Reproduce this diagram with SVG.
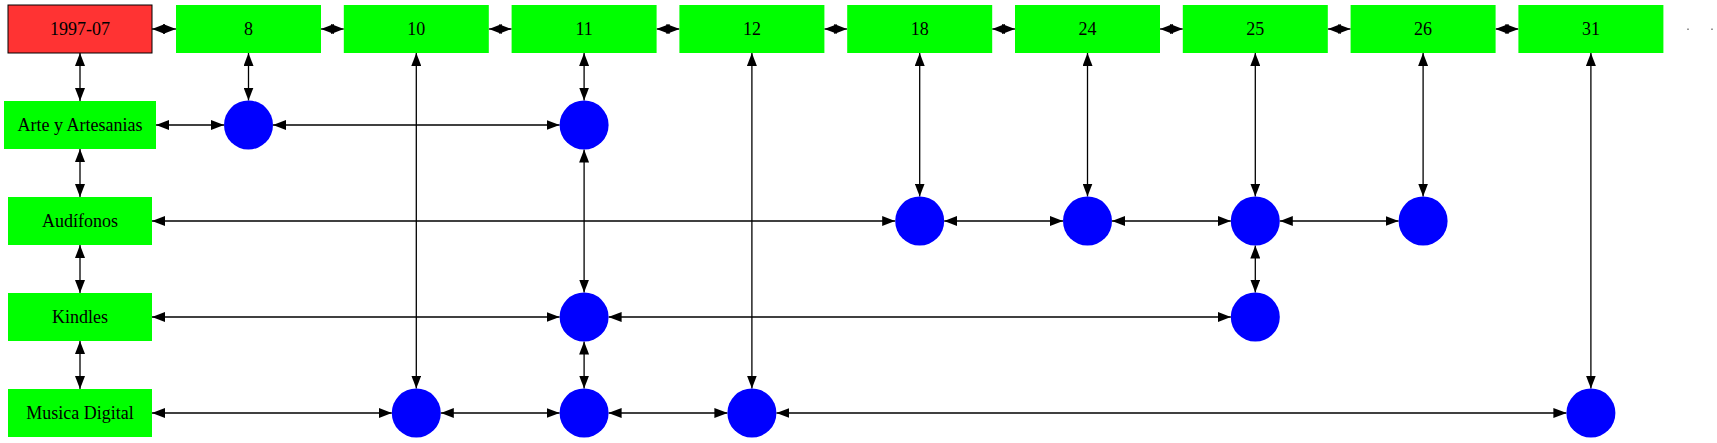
<svg xmlns="http://www.w3.org/2000/svg" width="1717" height="443" viewBox="0 0 1717 443">
<style>
.lbl{font-family:"Liberation Serif","Times New Roman",serif;font-size:18px;text-anchor:middle;fill:#000}
.g{fill:#00ff00}
.c{fill:#0000ff}
.e{stroke:#000;stroke-width:1.3;fill:none;marker-start:url(#ah);marker-end:url(#ah)}
</style>
<defs>
<marker id="ah" markerUnits="userSpaceOnUse" markerWidth="13" markerHeight="10" refX="13" refY="5" orient="auto-start-reverse" viewBox="0 0 13 10">
<path d="M0,0 L13,5 L0,10 z" fill="#000"/>
</marker>
</defs>
<rect width="1717" height="443" fill="#fff"/>
<g id="connectors">
<line class="e" x1="152" y1="29" x2="176" y2="29"/>
<line class="e" x1="321" y1="29" x2="343.8" y2="29"/>
<line class="e" x1="488.8" y1="29" x2="511.6" y2="29"/>
<line class="e" x1="656.6" y1="29" x2="679.4" y2="29"/>
<line class="e" x1="824.4" y1="29" x2="847.2" y2="29"/>
<line class="e" x1="992.2" y1="29" x2="1015" y2="29"/>
<line class="e" x1="1160" y1="29" x2="1182.8" y2="29"/>
<line class="e" x1="1327.8" y1="29" x2="1350.6" y2="29"/>
<line class="e" x1="1495.6" y1="29" x2="1518.4" y2="29"/>
<line class="e" x1="80" y1="53" x2="80" y2="101"/>
<line class="e" x1="80" y1="149" x2="80" y2="197"/>
<line class="e" x1="80" y1="245" x2="80" y2="293"/>
<line class="e" x1="80" y1="341" x2="80" y2="389"/>
<line class="e" x1="248.5" y1="53" x2="248.5" y2="100.5"/>
<line class="e" x1="416.3" y1="53" x2="416.3" y2="388.5"/>
<line class="e" x1="584.1" y1="53" x2="584.1" y2="100.5"/>
<line class="e" x1="584.1" y1="149.5" x2="584.1" y2="292.5"/>
<line class="e" x1="584.1" y1="341.5" x2="584.1" y2="388.5"/>
<line class="e" x1="751.9" y1="53" x2="751.9" y2="388.5"/>
<line class="e" x1="919.7" y1="53" x2="919.7" y2="196.5"/>
<line class="e" x1="1087.5" y1="53" x2="1087.5" y2="196.5"/>
<line class="e" x1="1255.3" y1="53" x2="1255.3" y2="196.5"/>
<line class="e" x1="1255.3" y1="245.5" x2="1255.3" y2="292.5"/>
<line class="e" x1="1423.1" y1="53" x2="1423.1" y2="196.5"/>
<line class="e" x1="1590.9" y1="53" x2="1590.9" y2="388.5"/>
<line class="e" x1="156" y1="125" x2="224" y2="125"/>
<line class="e" x1="273" y1="125" x2="559.6" y2="125"/>
<line class="e" x1="152" y1="221" x2="895.2" y2="221"/>
<line class="e" x1="944.2" y1="221" x2="1063" y2="221"/>
<line class="e" x1="1112" y1="221" x2="1230.8" y2="221"/>
<line class="e" x1="1279.8" y1="221" x2="1398.6" y2="221"/>
<line class="e" x1="152" y1="317" x2="559.6" y2="317"/>
<line class="e" x1="608.6" y1="317" x2="1230.8" y2="317"/>
<line class="e" x1="152" y1="413" x2="391.8" y2="413"/>
<line class="e" x1="440.8" y1="413" x2="559.6" y2="413"/>
<line class="e" x1="608.6" y1="413" x2="727.4" y2="413"/>
<line class="e" x1="776.4" y1="413" x2="1566.4" y2="413"/>
</g>
<g id="n-1997-07"><rect x="8" y="5" width="144" height="48" fill="#ff3333" stroke="#000" stroke-width="1"/><text class="lbl" x="80" y="35">1997-07</text></g>
<g id="n-8"><rect class="g" x="176" y="5" width="145" height="48"/><text class="lbl" x="248.5" y="35">8</text></g>
<g id="n-10"><rect class="g" x="343.8" y="5" width="145" height="48"/><text class="lbl" x="416.3" y="35">10</text></g>
<g id="n-11"><rect class="g" x="511.6" y="5" width="145" height="48"/><text class="lbl" x="584.1" y="35">11</text></g>
<g id="n-12"><rect class="g" x="679.4" y="5" width="145" height="48"/><text class="lbl" x="751.9" y="35">12</text></g>
<g id="n-18"><rect class="g" x="847.2" y="5" width="145" height="48"/><text class="lbl" x="919.7" y="35">18</text></g>
<g id="n-24"><rect class="g" x="1015" y="5" width="145" height="48"/><text class="lbl" x="1087.5" y="35">24</text></g>
<g id="n-25"><rect class="g" x="1182.8" y="5" width="145" height="48"/><text class="lbl" x="1255.3" y="35">25</text></g>
<g id="n-26"><rect class="g" x="1350.6" y="5" width="145" height="48"/><text class="lbl" x="1423.1" y="35">26</text></g>
<g id="n-31"><rect class="g" x="1518.4" y="5" width="145" height="48"/><text class="lbl" x="1590.9" y="35">31</text></g>
<g id="n-more"><rect x="1687" y="28.5" width="2" height="1.5" fill="#999"/><rect x="1711" y="28.5" width="2" height="1.5" fill="#999"/></g>
<g id="n-arte"><rect class="g" x="4" y="101" width="152" height="48"/><text class="lbl" x="80" y="131">Arte y Artesanias</text></g>
<g id="n-audifonos"><rect class="g" x="8" y="197" width="144" height="48"/><text class="lbl" x="80" y="227">Audífonos</text></g>
<g id="n-kindles"><rect class="g" x="8" y="293" width="144" height="48"/><text class="lbl" x="80" y="323">Kindles</text></g>
<g id="n-musica"><rect class="g" x="8" y="389" width="144" height="48"/><text class="lbl" x="80" y="419">Musica Digital</text></g>
<g id="c-arte-8"><circle class="c" cx="248.5" cy="125" r="24.5"/></g>
<g id="c-arte-11"><circle class="c" cx="584.1" cy="125" r="24.5"/></g>
<g id="c-aud-18"><circle class="c" cx="919.7" cy="221" r="24.5"/></g>
<g id="c-aud-24"><circle class="c" cx="1087.5" cy="221" r="24.5"/></g>
<g id="c-aud-25"><circle class="c" cx="1255.3" cy="221" r="24.5"/></g>
<g id="c-aud-26"><circle class="c" cx="1423.1" cy="221" r="24.5"/></g>
<g id="c-kin-11"><circle class="c" cx="584.1" cy="317" r="24.5"/></g>
<g id="c-kin-25"><circle class="c" cx="1255.3" cy="317" r="24.5"/></g>
<g id="c-mus-10"><circle class="c" cx="416.3" cy="413" r="24.5"/></g>
<g id="c-mus-11"><circle class="c" cx="584.1" cy="413" r="24.5"/></g>
<g id="c-mus-12"><circle class="c" cx="751.9" cy="413" r="24.5"/></g>
<g id="c-mus-31"><circle class="c" cx="1590.9" cy="413" r="24.5"/></g>
</svg>
